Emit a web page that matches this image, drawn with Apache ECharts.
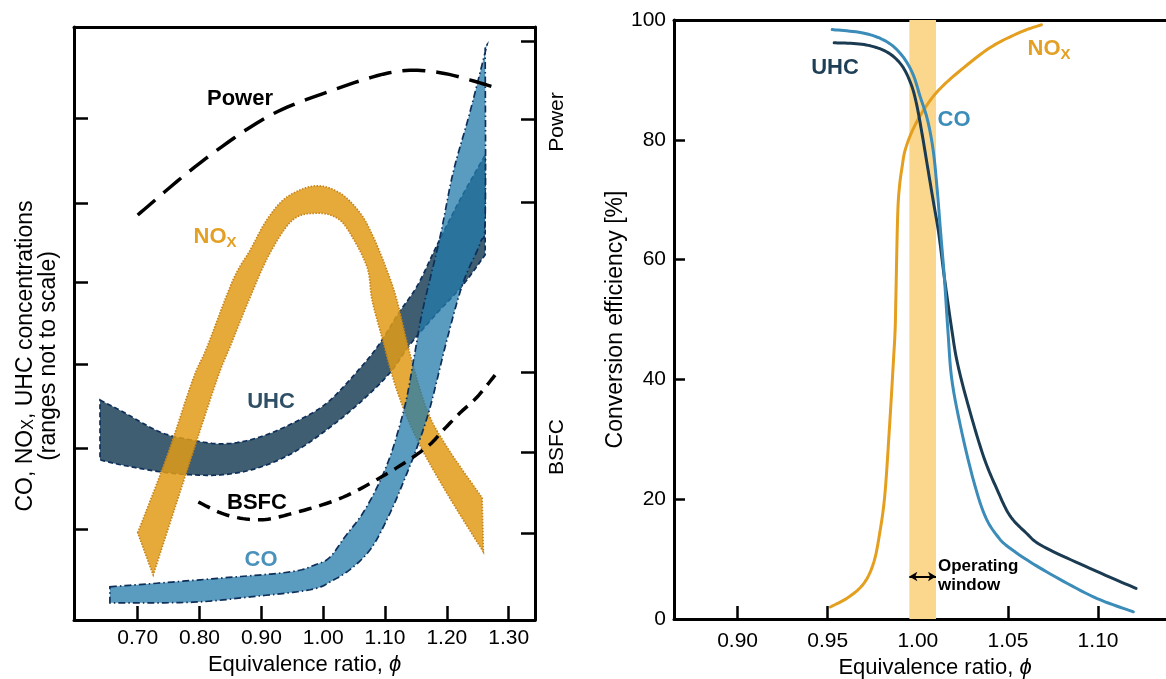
<!DOCTYPE html>
<html>
<head>
<meta charset="utf-8">
<script src="https://cdn.jsdelivr.net/npm/echarts@6/dist/echarts.min.js"></script>
<style>
html,body{margin:0;padding:0;background:#fff;}
#chart{width:1166px;height:679px;}
</style>
</head>
<body>
<div id="chart"></div>
<script>
// ---------- data (left panel: schematic, y in arbitrary units 0-100) ----------
const LEFT_X_TICKS = [0.70, 0.80, 0.90, 1.00, 1.10, 1.20, 1.30];
const LEFT_Y_TICKS_L = [84.65, 70.32, 57.0, 43.17, 29.0, 15.35];
const LEFT_Y_TICKS_R = [97.64, 84.49, 70.49, 41.82, 28.33, 14.67];

const POWER = [[0.700,68.3],[0.801,77.1],[0.909,84.8],[1.006,89.0],[1.113,92.4],[1.189,92.3],[1.275,89.9]];
const BSFC = [[0.798,19.9],[0.844,17.7],[0.898,16.9],[0.951,18.0],[1.032,20.7],[1.113,25.3],[1.168,29.2],[1.194,32.0],[1.221,34.9],[1.249,37.6],[1.278,41.3]];

// band edges (each edge read left to right)
const NOX_OUTER = [[0.700,14.7],[0.747,27.5],[0.789,40.5],[0.812,46.0],[0.854,57.3],[0.882,62.4],[0.909,67.5],[0.941,71.3],[0.987,73.2],[1.027,72.0],[1.060,68.6],[1.081,64.6],[1.103,59.0],[1.119,54.0],[1.140,45.0],[1.168,35.4],[1.200,29.2],[1.257,20.6]];
const NOX_INNER = [[0.725,7.6],[0.780,25.3],[0.828,40.5],[0.849,46.0],[0.882,54.5],[0.914,61.9],[0.951,67.5],[0.990,68.6],[1.022,67.8],[1.043,65.3],[1.071,59.5],[1.079,54.0],[1.095,47.7],[1.119,38.8],[1.152,30.4],[1.200,21.4],[1.259,11.5]];

const UHC_UPPER = [[0.639,37.1],[0.676,35.1],[0.736,31.7],[0.785,30.4],[0.838,29.7],[0.893,30.7],[0.951,33.2],[1.006,36.6],[1.060,42.5],[1.092,46.7],[1.121,51.6],[1.153,56.5],[1.184,63.2],[1.221,70.8],[1.262,78.4]];
const UHC_LOWER = [[0.639,27.0],[0.676,26.1],[0.736,25.0],[0.785,24.5],[0.838,24.5],[0.893,25.6],[0.951,28.2],[1.011,32.5],[1.064,37.1],[1.108,41.7],[1.140,46.4],[1.181,51.4],[1.226,56.5],[1.262,61.6]];

const CO_UPPER = [[0.655,5.6],[0.731,6.2],[0.838,7.1],[0.946,8.1],[0.987,9.3],[1.011,10.6],[1.035,14.0],[1.064,18.0],[1.089,22.8],[1.108,27.5],[1.124,32.9],[1.136,37.9],[1.149,45.5],[1.161,52.3],[1.189,64.6],[1.210,75.4],[1.237,85.5],[1.265,97.0]];
const CO_LOWER = [[0.655,2.9],[0.789,3.0],[0.882,3.9],[0.979,5.1],[1.016,6.7],[1.048,8.9],[1.079,12.3],[1.108,18.0],[1.131,23.6],[1.152,29.2],[1.173,35.9],[1.200,47.2],[1.226,56.8],[1.254,63.6],[1.262,68.0],[1.262,96.6]];

// ---------- data (right panel: conversion efficiency %) ----------
const RIGHT_X_TICKS = [0.90, 0.95, 1.00, 1.05, 1.10];
const NOX_EFF = [[0.9515,2.0],[0.9619,3.7],[0.9702,6.0],[0.9754,9.3],[0.9785,13.7],[0.9816,20.4],[0.9842,31.6],[0.9864,42.7],[0.9874,48.2],[0.9878,53.3],[0.9888,67.1],[0.9898,72.1],[0.9913,75.5],[0.9930,78.3],[0.9971,81.6],[1.0033,85.0],[1.0116,88.3],[1.0241,91.7],[1.0407,95.5],[1.0572,98.0],[1.0686,99.2]];
const UHC_EFF = [[0.9536,96.2],[0.9702,95.9],[0.9826,94.7],[0.9909,92.5],[0.9961,89.4],[0.9992,86.1],[1.0023,81.1],[1.0054,75.5],[1.0085,69.9],[1.0116,64.4],[1.0147,57.1],[1.0189,48.2],[1.0220,42.7],[1.0282,35.4],[1.0365,27.1],[1.0440,21.6],[1.0510,17.3],[1.0600,14.4],[1.0696,12.1],[1.0974,8.2],[1.1211,5.1]];
const CO_EFF = [[0.9525,98.4],[0.9702,97.8],[0.9826,96.4],[0.9909,94.2],[0.9971,91.1],[1.0013,87.2],[1.0054,83.3],[1.0085,78.3],[1.0106,72.2],[1.0127,64.4],[1.0147,57.1],[1.0168,47.7],[1.0189,39.9],[1.0241,31.6],[1.0310,23.0],[1.0373,17.2],[1.0440,13.9],[1.0512,11.8],[1.0696,8.2],[1.0974,3.7],[1.1196,1.2]];
const WINDOW = [0.9953, 1.0101];
const ARROW_Y = 7.1;

// ---------- chart ----------
const FONT = '"Liberation Sans", Arial, Helvetica, sans-serif';
const chart = echarts.init(document.getElementById('chart'), null, {renderer: 'canvas'});

// Catmull-Rom smoothing of an already-projected pixel polyline (rendering only)
function smoothPixels(p) {
  const n = p.length, out = [p[0]], STEPS = 12;
  for (let i = 0; i < n - 1; i++) {
    const p0 = p[Math.max(i - 1, 0)], p1 = p[i], p2 = p[i + 1], p3 = p[Math.min(i + 2, n - 1)];
    const c1 = [p1[0] + (p2[0] - p0[0]) / 6, p1[1] + (p2[1] - p0[1]) / 6];
    const c2 = [p2[0] - (p3[0] - p1[0]) / 6, p2[1] - (p3[1] - p1[1]) / 6];
    for (let k = 1; k <= STEPS; k++) {
      const t = k / STEPS, u = 1 - t;
      out.push([
        u*u*u*p1[0] + 3*u*u*t*c1[0] + 3*u*t*t*c2[0] + t*t*t*p2[0],
        u*u*u*p1[1] + 3*u*u*t*c1[1] + 3*u*t*t*c2[1] + t*t*t*p2[1]
      ]);
    }
  }
  return out;
}

function band(name, edgeA, edgeB, fill, stroke, dash, z) {
  return {
    type: 'custom', name: name, xAxisIndex: 0, yAxisIndex: 0, z: z,
    coordinateSystem: 'cartesian2d', data: edgeA.concat(edgeB), encode: {x: 0, y: 1},
    silent: true, clip: false,
    renderItem: function (params, api) {
      if (params.dataIndex !== 0) return null;
      const a = smoothPixels(edgeA.map(function (p) { return api.coord(p); }));
      const b = smoothPixels(edgeB.slice().reverse().map(function (p) { return api.coord(p); }));
      return {
        type: 'polygon',
        shape: {points: a.concat(b)},
        style: {fill: fill, stroke: stroke, lineWidth: 1.7, lineDash: dash}
      };
    }
  };
}

function curve(name, pts, color, xi, yi, width, dash, z) {
  return {
    type: 'custom', name: name, xAxisIndex: xi, yAxisIndex: yi, z: z,
    coordinateSystem: 'cartesian2d', data: pts, encode: {x: 0, y: 1},
    silent: true, clip: false,
    renderItem: function (params, api) {
      if (params.dataIndex !== 0) return null;
      return {
        type: 'polyline',
        shape: {points: smoothPixels(pts.map(function (p) { return api.coord(p); }))},
        style: {fill: null, stroke: color, lineWidth: width, lineDash: dash || null, lineJoin: 'round', lineCap: dash ? 'butt' : 'round'}
      };
    }
  };
}

const fmt = function (v) { return Number(v).toFixed(2); };
const axisLineStyle = {color: '#000', width: 3};
const subRich = function (size, weight, color) {
  return {sub: {fontSize: size, fontWeight: weight, fontFamily: FONT, fill: color, color: color, verticalAlign: 'bottom', lineHeight: size}};
};

function label(x, y, text, color, size, weight, extra) {
  const st = Object.assign({
    text: text, fill: color, fontSize: size, fontWeight: weight, fontFamily: FONT,
    align: 'center', verticalAlign: 'middle'
  }, extra && extra.style || {});
  const el = {type: 'text', x: x, y: y, z: 100, style: st, silent: true};
  if (extra && extra.rotation) el.rotation = extra.rotation;
  return el;
}

const option = {
  animation: false,
  backgroundColor: '#fff',
  grid: [
    {left: 74, top: 27, width: 461, height: 593, outerBoundsMode: 'none', containLabel: false},
    {left: 674, top: 20, width: 522, height: 599, outerBoundsMode: 'none', containLabel: false}
  ],
  xAxis: [
    {
      gridIndex: 0, type: 'value', min: 0.59693, max: 1.34258, position: 'bottom',
      axisLine: {onZero: false, lineStyle: axisLineStyle},
      axisTick: {inside: true, length: 14, customValues: LEFT_X_TICKS, lineStyle: {color: '#000', width: 2.5}},
      axisLabel: {customValues: LEFT_X_TICKS, formatter: fmt, fontSize: 21, margin: 8, color: '#000', fontFamily: FONT},
      splitLine: {show: false},
      name: 'Equivalence ratio, {i|ϕ}', nameLocation: 'middle', nameGap: 34,
      nameTextStyle: {fontSize: 22, color: '#000', fontFamily: FONT, rich: {i: {fontStyle: 'italic', fontSize: 22, fontFamily: FONT, color: '#000'}}}
    },
    {
      gridIndex: 0, type: 'value', min: 0.59693, max: 1.34258, position: 'top',
      axisLine: {onZero: false, lineStyle: axisLineStyle},
      axisTick: {show: false}, axisLabel: {show: false}, splitLine: {show: false}
    },
    {
      gridIndex: 1, type: 'value', min: 0.86473, max: 1.15434, position: 'bottom',
      axisLine: {onZero: false, lineStyle: axisLineStyle},
      axisTick: {inside: true, length: 13, customValues: RIGHT_X_TICKS, lineStyle: {color: '#000', width: 2.5}},
      axisLabel: {customValues: RIGHT_X_TICKS, formatter: fmt, fontSize: 21, margin: 12, color: '#000', fontFamily: FONT},
      splitLine: {show: false},
      name: 'Equivalence ratio, {i|ϕ}', nameLocation: 'middle', nameGap: 37,
      nameTextStyle: {fontSize: 22, color: '#000', fontFamily: FONT, rich: {i: {fontStyle: 'italic', fontSize: 22, fontFamily: FONT, color: '#000'}}}
    },
    {
      gridIndex: 1, type: 'value', min: 0.86473, max: 1.15434, position: 'top',
      axisLine: {onZero: false, lineStyle: axisLineStyle},
      axisTick: {show: false}, axisLabel: {show: false}, splitLine: {show: false}
    }
  ],
  yAxis: [
    {
      gridIndex: 0, type: 'value', min: 0, max: 100, position: 'left',
      axisLine: {show: true, onZero: false, lineStyle: axisLineStyle},
      axisTick: {show: true, inside: true, length: 14, customValues: LEFT_Y_TICKS_L, lineStyle: {color: '#000', width: 2.5}},
      axisLabel: {show: false}, splitLine: {show: false}
    },
    {
      gridIndex: 0, type: 'value', min: 0, max: 100, position: 'right',
      axisLine: {show: true, onZero: false, lineStyle: axisLineStyle},
      axisTick: {show: true, inside: true, length: 14, customValues: LEFT_Y_TICKS_R, lineStyle: {color: '#000', width: 2.5}},
      axisLabel: {show: false}, splitLine: {show: false}
    },
    {
      gridIndex: 1, type: 'value', min: 0, max: 100, interval: 20, position: 'left',
      axisLine: {show: true, onZero: false, lineStyle: axisLineStyle},
      axisTick: {show: true, inside: true, length: 11, lineStyle: {color: '#000', width: 2.5}},
      axisLabel: {fontSize: 21, margin: 8, color: '#000', fontFamily: FONT},
      splitLine: {show: false},
      name: 'Conversion efficiency [%]', nameLocation: 'middle', nameGap: 46,
      nameTextStyle: {fontSize: 23, color: '#000', fontFamily: FONT}
    }
  ],
  series: [
    band('UHC band', UHC_UPPER, UHC_LOWER, 'rgba(29,66,89,0.85)', '#0E2F5A', [5, 3], 2),
    band('NOx band', NOX_OUTER, NOX_INNER, 'rgba(224,155,24,0.85)', '#C8841A', [1.5, 1.5], 3),
    band('CO band', CO_UPPER, CO_LOWER, 'rgba(35,123,171,0.75)', '#0E2F5A', [7, 3, 1.5, 3], 4),
    curve('Power', POWER, '#000', 0, 0, 3.5, [23, 11], 6),
    curve('BSFC', BSFC, '#000', 0, 0, 3.5, [13, 8], 6),
    {
      type: 'line', name: 'window', xAxisIndex: 2, yAxisIndex: 2, z: 1,
      data: [[WINDOW[0], ARROW_Y]], showSymbol: false, symbol: 'none', silent: true,
      lineStyle: {width: 0},
      markArea: {silent: true, itemStyle: {color: '#FBD78E'}, data: [[{xAxis: WINDOW[0]}, {xAxis: WINDOW[1]}]]},
      markLine: {
        silent: true, symbol: ['arrow', 'arrow'], symbolSize: [7, 8],
        lineStyle: {color: '#000', width: 2, type: 'solid'}, label: {show: false},
        data: [[{coord: [WINDOW[0], ARROW_Y]}, {coord: [WINDOW[1], ARROW_Y]}]]
      }
    },
    curve('NOx eff', NOX_EFF, '#E49F1F', 2, 2, 3, null, 5),
    curve('UHC eff', UHC_EFF, '#1B3B52', 2, 2, 3, null, 5),
    curve('CO eff', CO_EFF, '#3C8CB9', 2, 2, 3, null, 5)
  ],
  graphic: [
    // left y-axis title (two lines)
    label(37, 356, 'CO, NO{sub|X}, UHC concentrations\n(ranges not to scale)', '#000', 23, 'normal',
      {rotation: Math.PI / 2, style: {lineHeight: 23, rich: subRich(16, 'normal', '#000')}}),
    // right-side labels of left panel
    label(557, 122, 'Power', '#000', 21, 'normal', {rotation: Math.PI / 2}),
    label(557, 447, 'BSFC', '#000', 21, 'normal', {rotation: Math.PI / 2}),
    // in-plot labels, left panel
    label(240, 99, 'Power', '#000', 22, 'bold'),
    label(215, 237, 'NO{sub|X}', '#E3A024', 22, 'bold', {style: {lineHeight: 26, rich: subRich(15, 'bold', '#E3A024')}}),
    label(271, 402, 'UHC', '#2F4F66', 22, 'bold'),
    label(257, 503, 'BSFC', '#000', 22, 'bold'),
    label(261, 560, 'CO', '#4A92BC', 22, 'bold'),
    // in-plot labels, right panel
    label(835, 68, 'UHC', '#1E3F56', 22, 'bold'),
    label(954, 120, 'CO', '#3C8CB9', 22, 'bold'),
    label(1049, 49, 'NO{sub|X}', '#E3A024', 22, 'bold', {style: {lineHeight: 26, rich: subRich(15, 'bold', '#E3A024')}}),
    label(938, 576, 'Operating\nwindow', '#000', 17, 'bold', {style: {align: 'left', lineHeight: 19}})
  ]
};
chart.setOption(option);
</script>
</body>
</html>
